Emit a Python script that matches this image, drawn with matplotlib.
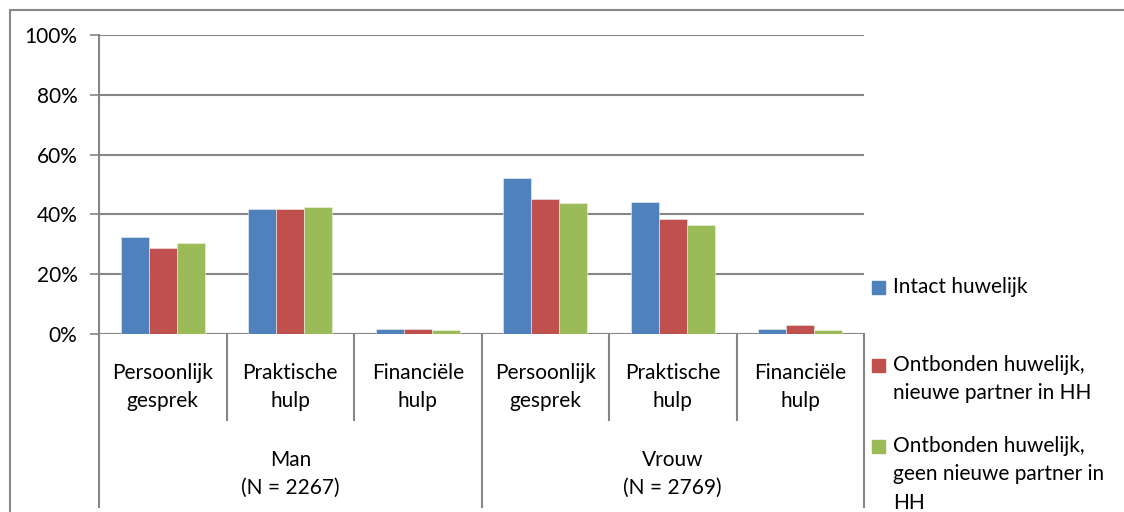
import numpy as np
import matplotlib
matplotlib.use('Agg')
import matplotlib.pyplot as plt
from matplotlib.patches import Rectangle
from matplotlib.transforms import blended_transform_factory

plt.rcParams['font.family'] = ['Lato', 'DejaVu Sans']

# Gegevens (in %)
groepen = ['Man\n(N = 2267)', 'Vrouw\n(N = 2769)']
soorten = ['Persoonlijk\ngesprek', 'Praktische\nhulp', 'Financiële\nhulp']
reeksen = ['Intact huwelijk',
           'Ontbonden huwelijk,\nnieuwe partner in HH',
           'Ontbonden huwelijk,\ngeen nieuwe partner in\nHH']
intact = [32.3, 41.9, 1.8, 52.1, 44.3, 1.8]
nieuwe_partner = [28.8, 41.9, 1.8, 45.0, 38.4, 3.1]
geen_partner = [30.5, 42.6, 1.2, 43.9, 36.6, 1.2]
yticks = [0, 20, 40, 60, 80, 100]

kleuren = ['#4F81BD', '#C0504D', '#9BBB59']
grijs = '#868686'
W, H = 1124, 512
fs = 15
ls = 1.52

fig = plt.figure(figsize=(W / 100, H / 100), dpi=100)
ax = fig.add_axes([99 / W, 1 - 334 / H, (864 - 99) / W, (334 - 35) / H])

n = len(intact)
x = np.arange(n) + 0.5
bw = 0.22
for i, (vals, kl) in enumerate(zip([intact, nieuwe_partner, geen_partner], kleuren)):
    ax.bar(x + (i - 1) * bw, vals, bw, color=kl, edgecolor='#f0f0f0', linewidth=0.4, zorder=3)

ax.set_xlim(0, n)
ax.set_ylim(0, 100)
ax.set_yticks(yticks)
ax.set_yticklabels([f'{v}%' for v in yticks], fontsize=fs)
ax.yaxis.grid(True, color=grijs, linewidth=1.5, zorder=0)
ax.tick_params(axis='y', length=6.5, width=1.2, color=grijs, pad=9)
ax.set_xticks([])
for s in ['top', 'right', 'bottom']:
    ax.spines[s].set_visible(False)
ax.spines['left'].set_color(grijs)
ax.spines['left'].set_linewidth(1.5)

# Categorie-as met twee niveaus
tr = blended_transform_factory(ax.transData, ax.transAxes)
for k in range(n + 1):
    onder = -0.579 if k % 3 == 0 else -0.288
    ax.plot([k, k], [0, onder], color=grijs, lw=1.5, transform=tr, clip_on=False)
for k in range(n):
    ax.text(k + 0.5, -0.178, soorten[k % 3], transform=tr, ha='center', va='center',
            fontsize=fs, linespacing=ls)
for g, naam in enumerate(groepen):
    ax.text(g * 3 + 1.5, -0.468, naam, transform=tr, ha='center', va='center',
            fontsize=fs, linespacing=ls)

# Kader van het diagram
fig.patches.append(Rectangle((10 / W, -0.5), 2, 1.5 - 10 / H, transform=fig.transFigure,
                             fill=False, edgecolor=grijs, linewidth=1.5))

# Legenda
leg_y = [288, 366, 447]
for kl, label, yy in zip(kleuren, reeksen, leg_y):
    fig.patches.append(Rectangle((872 / W, 1 - (yy + 6) / H), 13 / W, 13 / H,
                                 transform=fig.transFigure, color=kl))
    fig.text(893 / W, 1 - (yy - 11) / H, label, ha='left', va='top', fontsize=fs,
             linespacing=ls)

fig.savefig('out.png', dpi=100)
